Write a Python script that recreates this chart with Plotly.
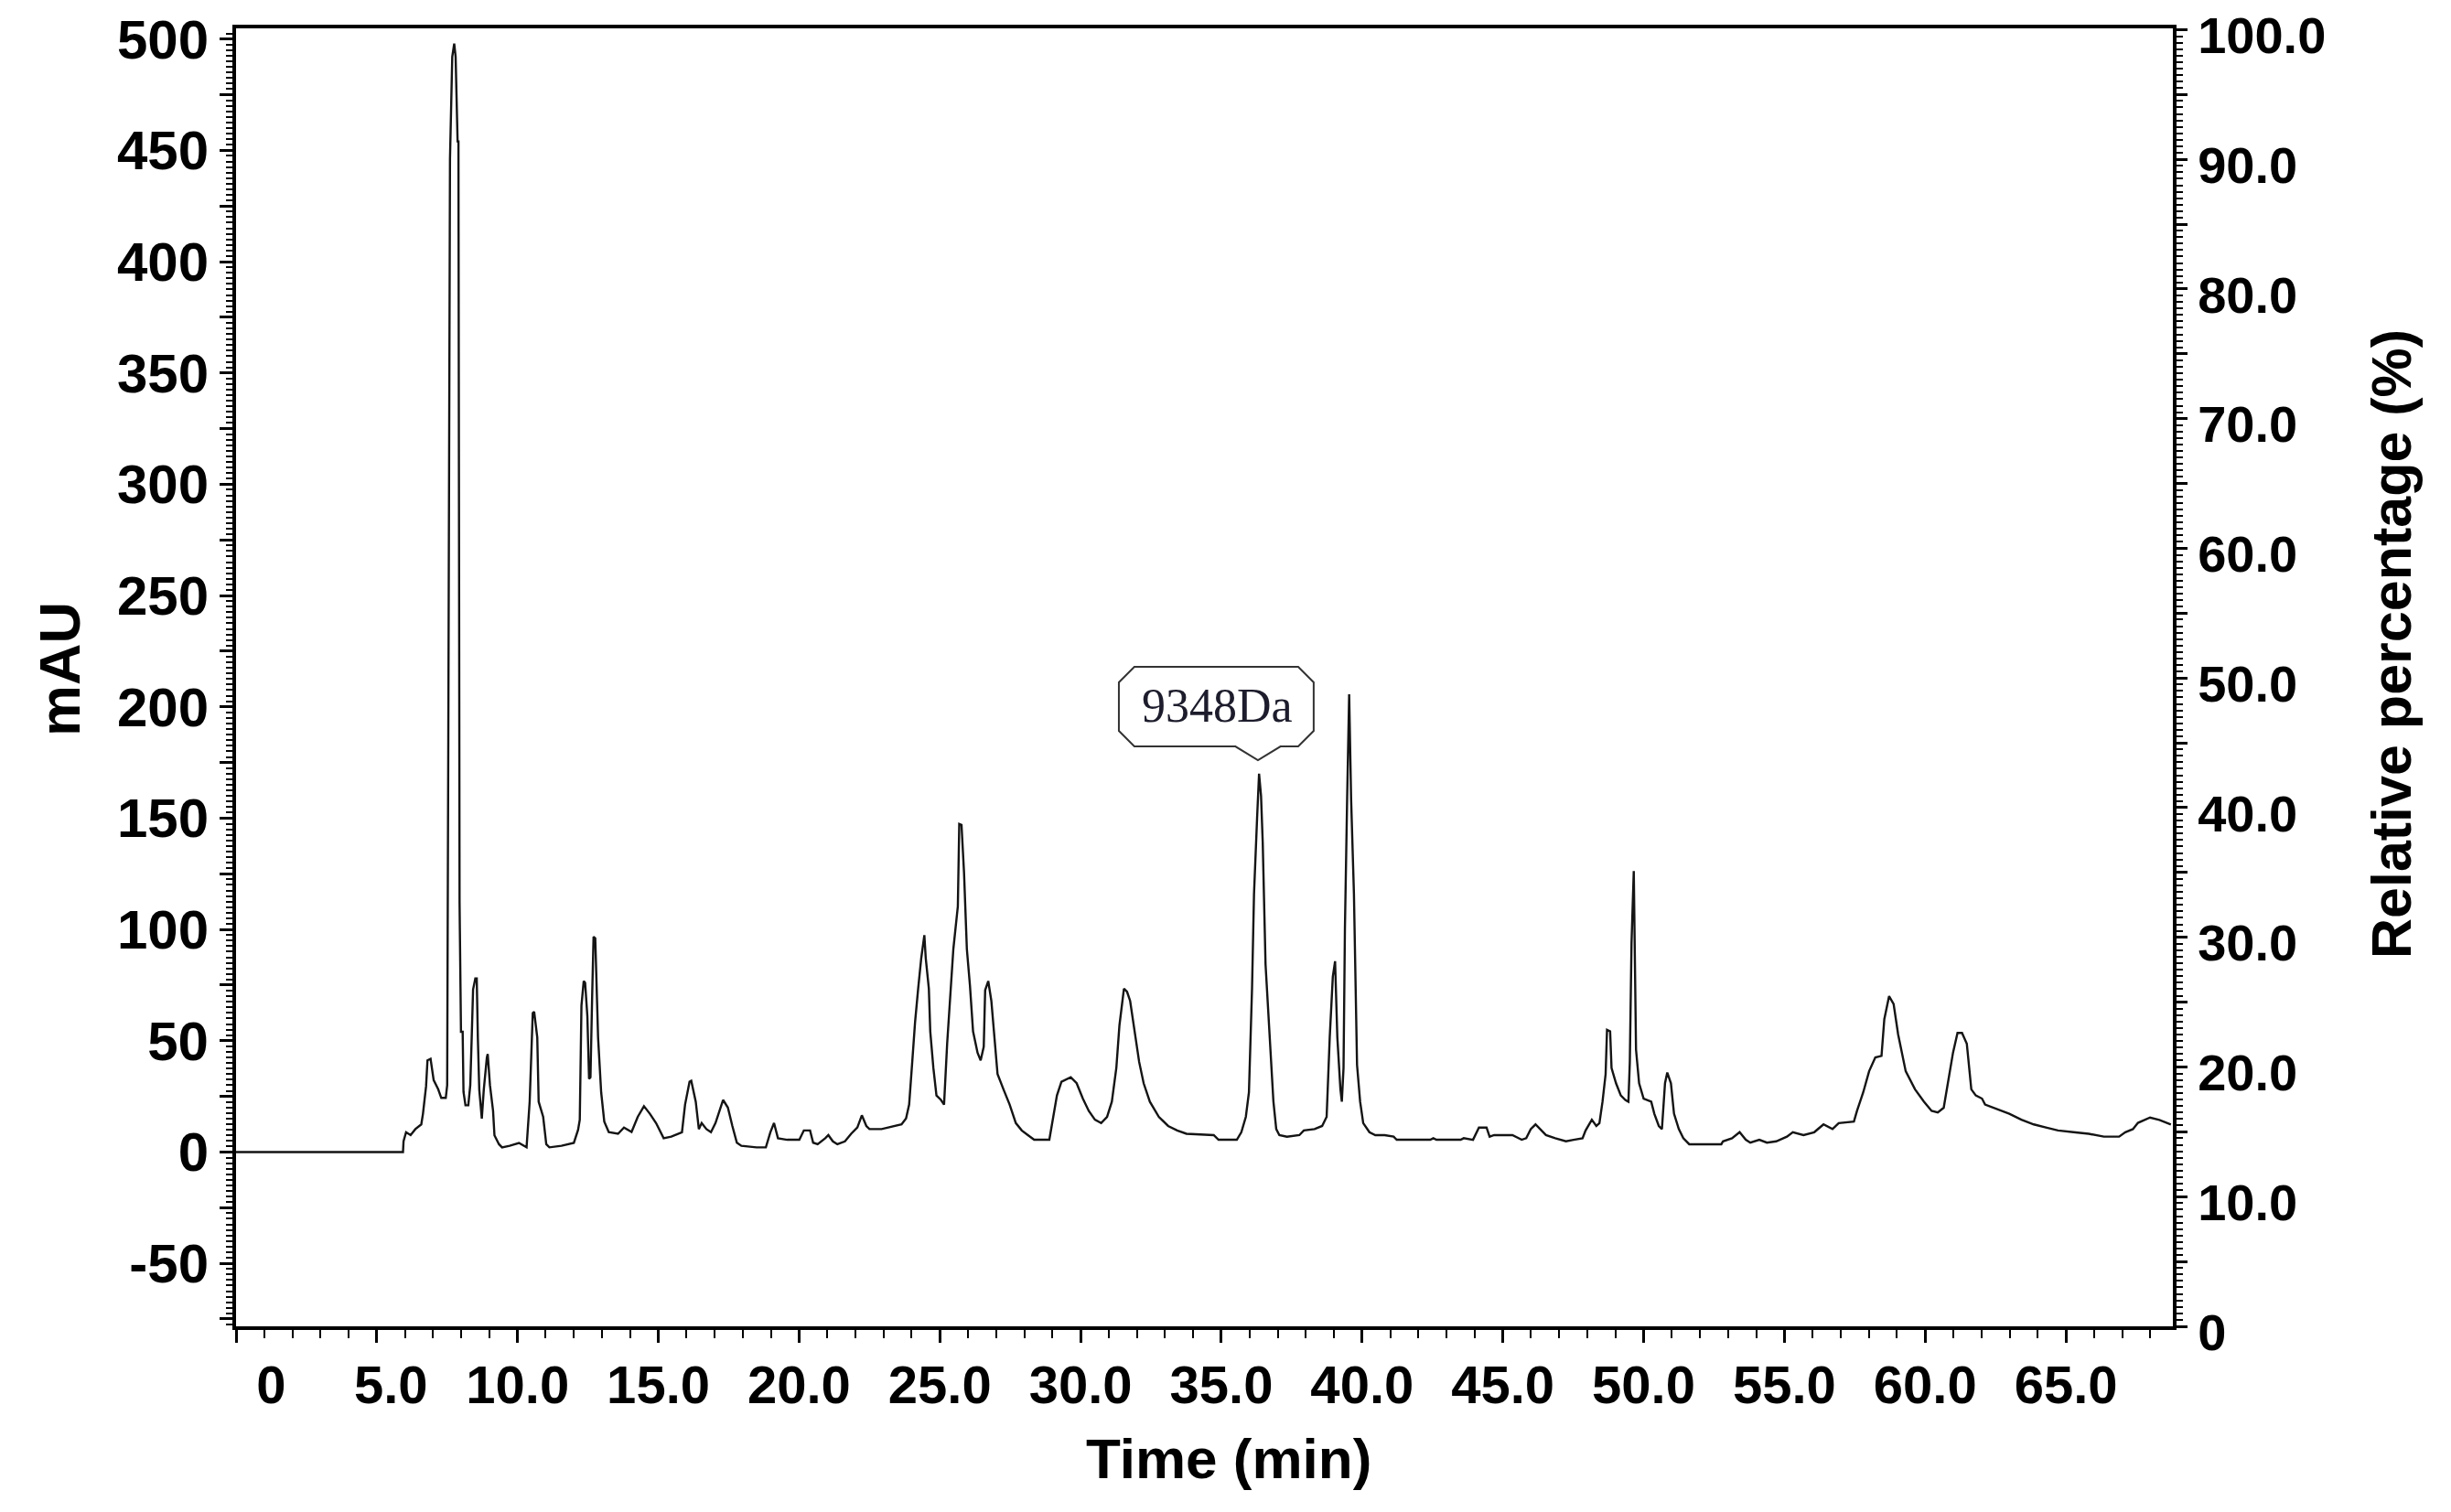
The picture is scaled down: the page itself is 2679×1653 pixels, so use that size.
import plotly.graph_objects as go

# chromatogram: retention time (min) and absorbance (mAU)
time_min = [
    0.0, 5.93, 5.95, 6.04, 6.20, 6.37, 6.58, 6.64, 6.75, 6.80, 6.91, 7.02, 7.18, 7.29, 7.45,
    7.50, 7.54, 7.60, 7.68, 7.75, 7.80, 7.87, 7.90, 7.94, 7.99, 8.05, 8.08, 8.15, 8.25, 8.32,
    8.37, 8.42, 8.50, 8.55, 8.59, 8.64, 8.73, 8.80, 8.91, 8.94, 9.02, 9.13, 9.18, 9.34, 9.45,
    9.72, 10.05, 10.21, 10.32, 10.43, 10.54, 10.59, 10.70, 10.75, 10.91, 11.02, 11.13, 11.56,
    12.00, 12.15, 12.21, 12.27, 12.35, 12.40, 12.48, 12.54, 12.59, 12.65, 12.70, 12.76, 12.81,
    12.86, 12.97, 13.08, 13.24, 13.57, 13.78, 14.05, 14.27, 14.49, 14.70, 14.92, 15.19, 15.46,
    15.84, 15.95, 16.11, 16.17, 16.33, 16.44, 16.54, 16.71, 16.87, 17.03, 17.30, 17.47, 17.63,
    17.79, 17.95, 18.49, 18.82, 18.98, 19.11, 19.25, 19.58, 20.01, 20.17, 20.39, 20.50, 20.66,
    20.93, 21.04, 21.20, 21.36, 21.63, 21.85, 22.07, 22.23, 22.39, 22.50, 22.93, 23.37, 23.64,
    23.80, 23.91, 24.02, 24.12, 24.23, 24.34, 24.45, 24.50, 24.61, 24.66, 24.77, 24.88, 25.04,
    25.15, 25.26, 25.37, 25.48, 25.64, 25.69, 25.77, 25.86, 25.96, 26.07, 26.18, 26.34, 26.45,
    26.56, 26.61, 26.72, 26.83, 26.94, 27.05, 27.26, 27.48, 27.70, 27.91, 28.13, 28.35, 28.89,
    29.00, 29.16, 29.32, 29.65, 29.86, 30.08, 30.29, 30.51, 30.73, 30.94, 31.11, 31.27, 31.38,
    31.54, 31.65, 31.76, 31.92, 32.08, 32.24, 32.46, 32.78, 33.11, 33.43, 33.76, 34.73, 34.90,
    35.55, 35.71, 35.87, 35.98, 36.09, 36.16, 36.27, 36.34, 36.41, 36.47, 36.57, 36.66, 36.74,
    36.85, 36.95, 37.06, 37.33, 37.77, 37.93, 38.31, 38.58, 38.74, 38.85, 38.96, 39.04, 39.12,
    39.23, 39.28, 39.34, 39.39, 39.47, 39.54, 39.61, 39.71, 39.82, 39.93, 40.04, 40.26, 40.47,
    40.80, 41.12, 41.23, 42.42, 42.53, 42.64, 43.50, 43.61, 43.94, 44.15, 44.42, 44.53, 44.69,
    45.34, 45.67, 45.83, 45.99, 46.16, 46.32, 46.53, 46.86, 47.24, 47.51, 47.83, 47.94, 48.16,
    48.32, 48.43, 48.54, 48.65, 48.70, 48.81, 48.86, 49.02, 49.19, 49.35, 49.46, 49.51, 49.57,
    49.65, 49.73, 49.84, 50.00, 50.27, 50.38, 50.54, 50.65, 50.76, 50.84, 50.97, 51.08, 51.25,
    51.41, 51.62, 52.27, 52.76, 52.82, 53.14, 53.41, 53.63, 53.79, 54.11, 54.38, 54.71, 55.09,
    55.30, 55.68, 56.06, 56.39, 56.71, 56.93, 57.47, 57.58, 57.80, 58.01, 58.23, 58.45, 58.55,
    58.72, 58.88, 59.04, 59.31, 59.64, 59.96, 60.23, 60.45, 60.66, 60.83, 60.99, 61.15, 61.31,
    61.48, 61.58, 61.64, 61.80, 62.02, 62.13, 62.56, 62.99, 63.42, 63.86, 64.29, 64.72, 65.27,
    65.81, 66.35, 66.89, 67.11, 67.38, 67.56, 67.99, 68.32, 68.73,
]
mau = [
    0, 0, 4.8, 8.9, 7.6, 10.3, 12.4, 17.2, 29.5, 41.2, 41.9, 32.3, 28.2, 24.3, 24.3,
    30, 186, 446, 492, 498, 492, 454, 454, 112, 54, 54, 27, 21, 21, 30,
    51, 73, 78, 78, 51, 28, 15, 28, 42.5, 44, 30, 18.5, 7.5, 3.5, 2.1,
    2.8, 4.1, 2.8, 2.1, 22.6, 62.4, 63, 51.5, 22.6, 15.8, 3.5, 2.1, 2.8,
    4.1, 10, 14.5, 65.8, 76.8, 76, 61, 32.9, 33.6, 70, 96.7, 96, 76.8,
    51.5, 26.8, 13.7, 8.9, 8.2, 11, 9, 15.8, 20.6, 17.2, 13, 6.2, 6.9,
    8.9, 21.3, 31.6, 32, 22.6, 10.3, 13, 10.3, 8.9, 13, 23.4, 20, 11.7,
    4.2, 2.8, 2.1, 2.1, 8.9, 13, 6.2, 5.5, 5.5, 9.7, 9.7, 4.2, 3.5,
    6.2, 7.6, 4.8, 3.5, 4.8, 8.2, 11, 16.5, 11.7, 10.3, 10.3, 11.7, 12.4,
    15.1, 21.3, 40.5, 58.3, 73.4, 87.1, 97.4, 87, 73.4, 54.2, 37.8, 25.4, 23.4,
    21.3, 48.7, 69.4, 91.2, 110.4, 147.4, 147, 125.4, 91.2, 74.8, 54.2, 44.6, 41.2,
    47.3, 72.7, 76.8, 67.9, 52.9, 35, 28.2, 21.3, 13, 9.7, 7.6, 5.5, 5.5,
    13, 25.4, 31.6, 33.6, 30.9, 24, 18.5, 14.5, 13, 15.8, 22.6, 37.8, 56.9,
    73.4, 72, 67.9, 54.2, 40.5, 30.9, 22.6, 15.8, 11.7, 9.7, 8.2, 7.6, 5.5,
    5.5, 8.9, 15.8, 26.8, 73.4, 115.9, 150.2, 170, 160, 139.2, 84.3, 63.7, 44.6,
    22.6, 10.3, 7.6, 6.9, 7.6, 9.7, 10.3, 11.7, 15.8, 51.5, 78.8, 85.7, 51.5,
    28.2, 22.6, 37.8, 100.8, 160, 205.6, 158.4, 115.9, 39.1, 22.6, 13, 8.9, 7.6,
    7.6, 6.9, 5.5, 5.5, 6.2, 5.5, 5.5, 6.2, 5.5, 11, 11, 6.9, 7.6,
    7.6, 5.5, 6.2, 10.3, 12.4, 10.3, 7.6, 6.2, 4.8, 5.5, 6.2, 9.7, 14.5,
    11.7, 13, 22.6, 35, 54.9, 54.2, 37.8, 30.9, 25.4, 23.4, 22.6, 40.5, 93.9,
    126.2, 46, 30.9, 24, 22.6, 17.2, 11.7, 10.3, 30.9, 35.7, 30.9, 17.2, 10.3,
    6.2, 3.5, 3.5, 3.5, 4.8, 6.2, 8.9, 5.5, 4.2, 5.5, 4.2, 4.8, 6.9,
    8.9, 7.6, 8.9, 12.4, 10.3, 13, 13.7, 18.5, 26.8, 36.3, 42.5, 43.2, 59.7,
    70, 66.5, 52.9, 36.3, 28.2, 22.6, 18.5, 17.8, 19.9, 32.3, 44.6, 53.5, 53.5,
    48.7, 35, 28.2, 25.4, 24, 21.3, 19.3, 17.2, 14.5, 12.4, 11, 9.7, 8.9,
    8.2, 6.9, 6.9, 8.9, 10.3, 13.1, 15.5, 14.4, 12.4,
]

x_major = [0, 5, 10, 15, 20, 25, 30, 35, 40, 45, 50, 55, 60, 65]
x_label_pos = [1.25, 5.5, 10, 15, 20, 25, 30, 35, 40, 45, 50, 55, 60, 65]
x_labels = ["0", "5.0", "10.0", "15.0", "20.0", "25.0", "30.0", "35.0", "40.0",
            "45.0", "50.0", "55.0", "60.0", "65.0"]
y_ticks = [-75, -50, -25, 0, 25, 50, 75, 100, 125, 150, 175, 200, 225, 250, 275,
           300, 325, 350, 375, 400, 425, 450, 475, 500]
y_labels = ["", "-50", "", "0", "", "50", "", "100", "", "150", "", "200", "", "250", "",
            "300", "", "350", "", "400", "", "450", "", "500"]
pct_ticks = [0, 5, 10, 15, 20, 25, 30, 35, 40, 45, 50, 55, 60, 65, 70, 75, 80, 85, 90, 95, 100]
pct_labels = ["0", "", "10.0", "", "20.0", "", "30.0", "", "40.0", "", "50.0", "", "60.0", "",
              "70.0", "", "80.0", "", "90.0", "", "100.0"]

peak_label = "9348Da"
peak_time = 36.3
peak_height = 170

FONT = "Liberation Sans, Arial, sans-serif"

fig = go.Figure()
fig.add_trace(
    go.Scatter(
        x=time_min,
        y=mau,
        mode="lines",
        line=dict(color="#141414", width=2.4),
        showlegend=False,
        hoverinfo="skip",
    )
)
# empty trace so the overlay axes are registered
fig.add_trace(go.Scatter(x=[None], y=[None], xaxis="x2", yaxis="y2", showlegend=False, hoverinfo="skip"))

# callout box above the labelled peak
tx, ty = peak_time, peak_height + 6
L, R = tx - 4.94, tx + 1.98
B, T = ty + 6.2, ty + 42
cx, cy = 0.55, 7
path = (
    f"M {L + cx},{T} L {R - cx},{T} L {R},{T - cy} L {R},{B + cy} L {R - cx},{B} "
    f"L {tx + 0.8},{B} L {tx},{ty} L {tx - 0.8},{B} L {L + cx},{B} L {L},{B + cy} "
    f"L {L},{T - cy} Z"
)
fig.add_shape(type="path", path=path, xref="x", yref="y",
              line=dict(color="#333333", width=2), fillcolor="white")
fig.add_annotation(x=(L + R) / 2 + 0.05, y=(B + T) / 2 + 0.5, xref="x", yref="y",
                   text=peak_label, showarrow=False,
                   font=dict(family="Liberation Serif, Times New Roman, serif", size=52, color="#1c1c2c"))

tick_font = dict(family=FONT, size=60, color="black", weight="bold")

fig.update_layout(
    width=2679,
    height=1653,
    margin=dict(l=258, r=304, t=31, b=203),
    paper_bgcolor="white",
    plot_bgcolor="white",
    xaxis=dict(
        range=[0, 68.8],
        tickmode="array",
        tickvals=x_major,
        showticklabels=False,
        ticks="outside",
        ticklen=14,
        tickwidth=3,
        tickcolor="black",
        showline=True,
        linewidth=4,
        linecolor="black",
        mirror=True,
        showgrid=False,
        zeroline=False,
        automargin=False,
        minor=dict(tickmode="linear", tick0=0, dtick=1, ticks="outside", ticklen=9,
                   tickwidth=2, tickcolor="black", showgrid=False),
    ),
    xaxis2=dict(
        overlaying="x",
        anchor="y",
        side="bottom",
        range=[0, 68.8],
        tickmode="array",
        tickvals=x_label_pos,
        ticktext=x_labels,
        ticks="",
        showline=False,
        showgrid=False,
        zeroline=False,
        automargin=False,
        ticklabelstandoff=25,
        ticklabeloverflow="allow",
        tickfont=dict(family=FONT, size=58, color="black", weight="bold"),
    ),
    yaxis=dict(
        range=[-78.3, 504.8],
        tickmode="array",
        tickvals=y_ticks,
        ticktext=y_labels,
        ticks="outside",
        ticklen=14,
        tickwidth=3,
        tickcolor="black",
        showline=True,
        linewidth=4,
        linecolor="black",
        showgrid=False,
        zeroline=False,
        automargin=False,
        ticklabeloverflow="allow",
        tickfont=tick_font,
        minor=dict(tickmode="linear", tick0=0, dtick=2.5, ticks="outside", ticklen=7,
                   tickwidth=2, tickcolor="black", showgrid=False),
    ),
    yaxis2=dict(
        overlaying="y",
        anchor="x",
        side="right",
        range=[0, 100.1],
        tickmode="array",
        tickvals=pct_ticks,
        ticktext=pct_labels,
        ticks="outside",
        ticklen=12,
        tickwidth=3,
        tickcolor="black",
        showline=True,
        linewidth=4,
        linecolor="black",
        showgrid=False,
        zeroline=False,
        automargin=False,
        ticklabeloverflow="allow",
        ticklabelshift=6,
        tickfont=dict(family=FONT, size=56, color="black", weight="bold"),
        minor=dict(tickmode="linear", tick0=0, dtick=0.5, ticks="outside", ticklen=7,
                   tickwidth=2, tickcolor="black", showgrid=False),
    ),
)

title_font = dict(family=FONT, color="black", weight="bold")
fig.add_annotation(x=-0.0912, y=0.5067, xref="paper", yref="paper", text="mAU",
                   textangle=-90, showarrow=False, xanchor="center", yanchor="middle",
                   font=dict(size=63, **title_font))
fig.add_annotation(x=1.1129, y=0.5257, xref="paper", yref="paper", text="Relative percentage (%)",
                   textangle=-90, showarrow=False, xanchor="center", yanchor="middle",
                   font=dict(size=61, **title_font))
fig.add_annotation(x=0.5127, y=-0.1015, xref="paper", yref="paper", text="Time (min)",
                   showarrow=False, xanchor="center", yanchor="middle",
                   font=dict(size=62, **title_font))

# drop the browser's default 8px body margin so the figure fills the window
fig.write_html(
    "out.html",
    config={"displayModeBar": False},
    post_script="document.body.style.margin = '0';",
)
